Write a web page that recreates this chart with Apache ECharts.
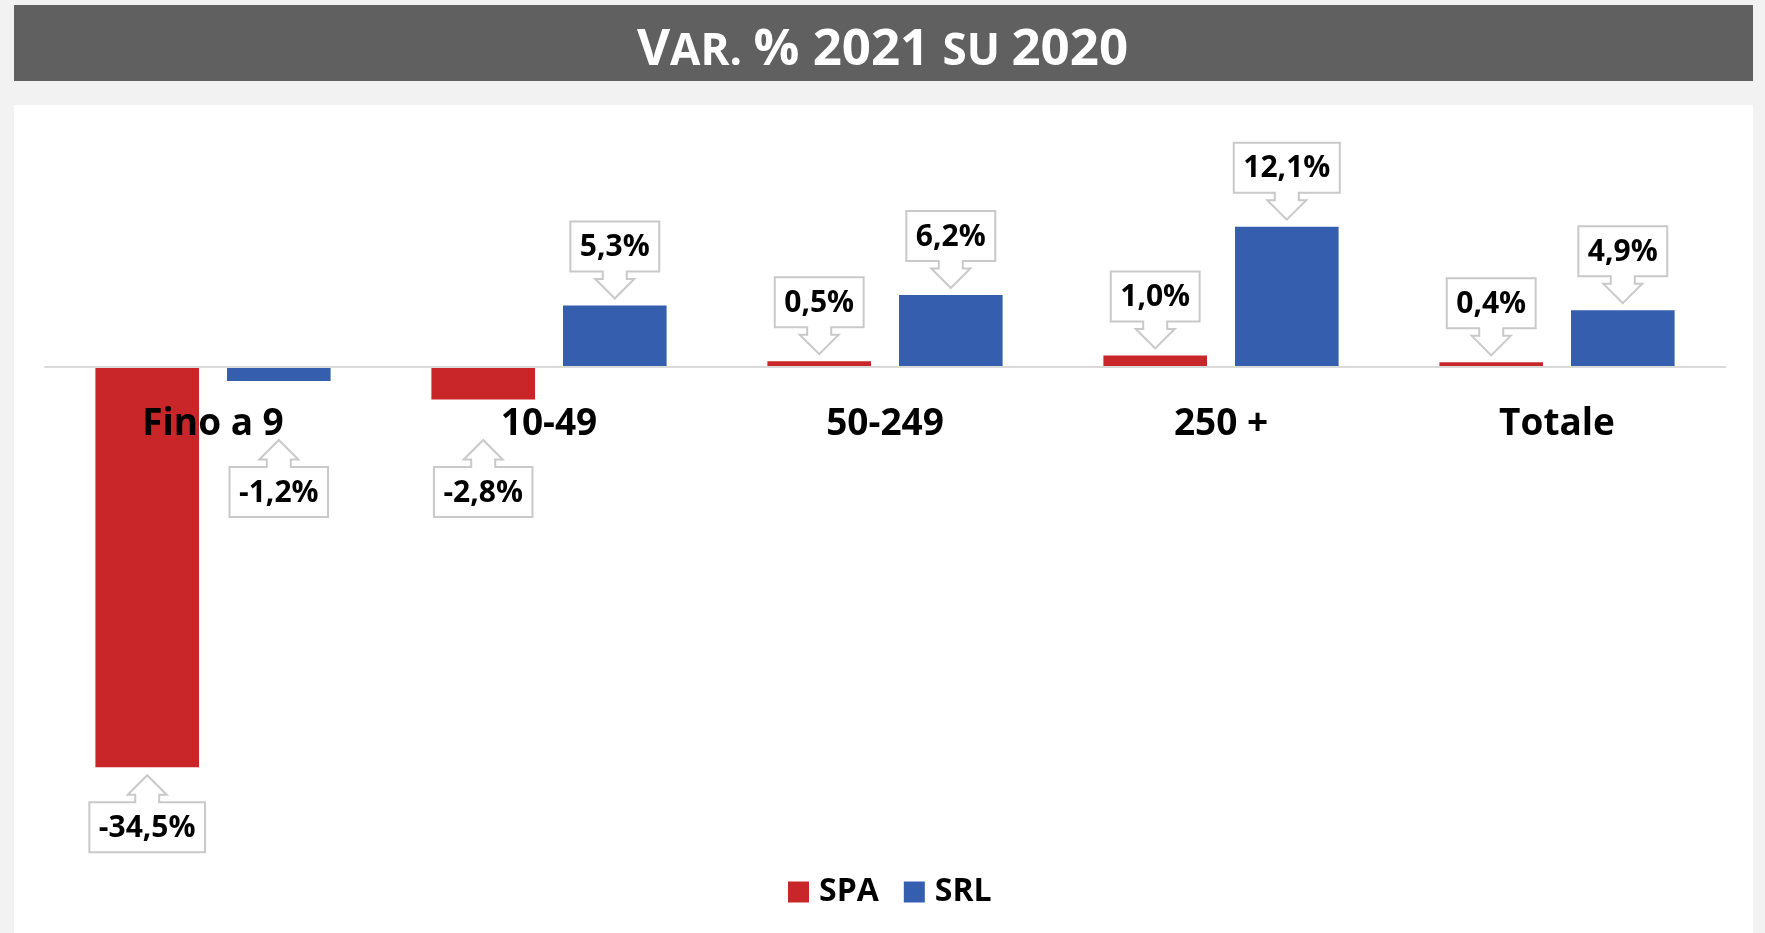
<!DOCTYPE html>
<html>
<head>
<meta charset="utf-8">
<script src="https://cdn.jsdelivr.net/npm/echarts@6/dist/echarts.min.js"></script>
<style>
html,body{margin:0;padding:0;background:#f2f2f2;}
#c{width:1765px;height:933px;}
</style>
</head>
<body>
<div id="c"></div>
<script>
const categories = ['Fino a 9', '10-49', '50-249', '250 +', 'Totale'];
const spa = [-34.5, -2.8, 0.5, 1.0, 0.4];
const srl = [-1.2, 5.3, 6.2, 12.1, 4.9];
const seriesNames = ['SPA', 'SRL'];

const RED = '#C9262A';
const BLUE = '#355FAE';
const FONT = '"Open Sans", "Noto Sans", sans-serif';
const LABEL_FONT = 'bold 30px ' + FONT;

const mctx = document.createElement('canvas').getContext('2d');
mctx.font = LABEL_FONT;

function fmt(v) { return v.toFixed(1).replace('.', ',') + '%'; }

function callout(k) {
  return function (params, api) {
    const ci = api.value(0), v = api.value(1);
    const lay = api.barLayout({ count: 2, barGap: '27%', barCategoryGap: '30%' });
    const p0 = api.coord([ci, 0]);
    const p1 = api.coord([ci, v]);
    const x = p0[0] + lay[k].offsetCenter;
    const zeroY = p0[1], endY = p1[1];
    const txt = fmt(v);
    const hw = (mctx.measureText(txt).width + 19) / 2;
    const sw = 12, hh = 19.5, shaft = 7.5, arrow = 27, bh = 50;
    let pts, midY;
    if (v >= 0) {
      const tip = endY - 7;
      const bb = tip - arrow, bt = bb - bh;
      pts = [[x - hw, bt], [x + hw, bt], [x + hw, bb], [x + sw, bb], [x + sw, bb + shaft], [x + hh, bb + shaft],
             [x, tip], [x - hh, bb + shaft], [x - sw, bb + shaft], [x - sw, bb], [x - hw, bb]];
      midY = (bt + bb) / 2;
    } else {
      const tip = Math.max(endY + 8, zeroY + 73);
      const bt = tip + arrow, bb = bt + bh;
      pts = [[x - hw, bb], [x + hw, bb], [x + hw, bt], [x + sw, bt], [x + sw, bt - shaft], [x + hh, bt - shaft],
             [x, tip], [x - hh, bt - shaft], [x - sw, bt - shaft], [x - sw, bt], [x - hw, bt]];
      midY = (bt + bb) / 2;
    }
    return {
      type: 'group',
      children: [
        { type: 'polygon', shape: { points: pts }, style: { fill: '#fff', stroke: '#c9c9c9', lineWidth: 2 } },
        { type: 'text', style: { text: txt, x: x, y: midY + 1, align: 'center', verticalAlign: 'middle', font: LABEL_FONT, fill: '#000' } }
      ]
    };
  };
}

const chart = echarts.init(document.getElementById('c'), null, { renderer: 'canvas' });
chart.setOption({
  backgroundColor: '#f2f2f2',
  animation: false,
  graphic: {
    z: -10,
    elements: [
      { type: 'rect', z: -10, shape: { x: 14, y: 5, width: 1739, height: 76 }, style: { fill: '#606060' } },
      { type: 'rect', z: -10, shape: { x: 14, y: 105, width: 1739, height: 828 }, style: { fill: '#ffffff' } }
    ]
  },
  title: {
    text: '{a|V}{b|AR. }{a|% 2021 }{b|SU }{a|2020}',
    left: 'center',
    top: 13,
    textStyle: {
      rich: {
        a: { fontFamily: FONT, fontWeight: 'bold', fontSize: 51, color: '#fff', verticalAlign: 'bottom', lineHeight: 58 },
        b: { fontFamily: FONT, fontWeight: 'bold', fontSize: 44, color: '#fff', verticalAlign: 'bottom', lineHeight: 58, padding: [0, 0, 2, 0] }
      }
    }
  },
  legend: {
    data: seriesNames,
    left: 783,
    top: 871,
    icon: 'rect',
    itemWidth: 21,
    itemHeight: 21,
    itemGap: 25,
    textStyle: { fontFamily: FONT, fontWeight: 'bold', fontSize: 32, color: '#000', padding: [0, 0, 0, 5] }
  },
  grid: { left: 45, right: 40, top: 193, bottom: 102 },
  xAxis: {
    type: 'category',
    data: categories,
    z: 10,
    axisLine: { onZero: true, lineStyle: { color: '#d9d9d9', width: 2 } },
    axisTick: { show: false },
    axisLabel: { fontFamily: FONT, fontWeight: 'bold', fontSize: 37, color: '#000', margin: -425 }
  },
  yAxis: { type: 'value', min: -40, max: 15, show: false, splitLine: { show: false } },
  series: [
    { name: 'SPA', type: 'bar', data: spa, itemStyle: { color: RED }, barGap: '27%', barCategoryGap: '30%', z: 2 },
    { name: 'SRL', type: 'bar', data: srl, itemStyle: { color: BLUE }, barGap: '27%', barCategoryGap: '30%', z: 2 },
    { name: 'SPA_lbl', type: 'custom', renderItem: callout(0), data: spa.map((v, i) => [i, v]), encode: { x: 0, y: 1 }, z: 20, clip: false, silent: true },
    { name: 'SRL_lbl', type: 'custom', renderItem: callout(1), data: srl.map((v, i) => [i, v]), encode: { x: 0, y: 1 }, z: 20, clip: false, silent: true }
  ]
});
</script>
</body>
</html>
